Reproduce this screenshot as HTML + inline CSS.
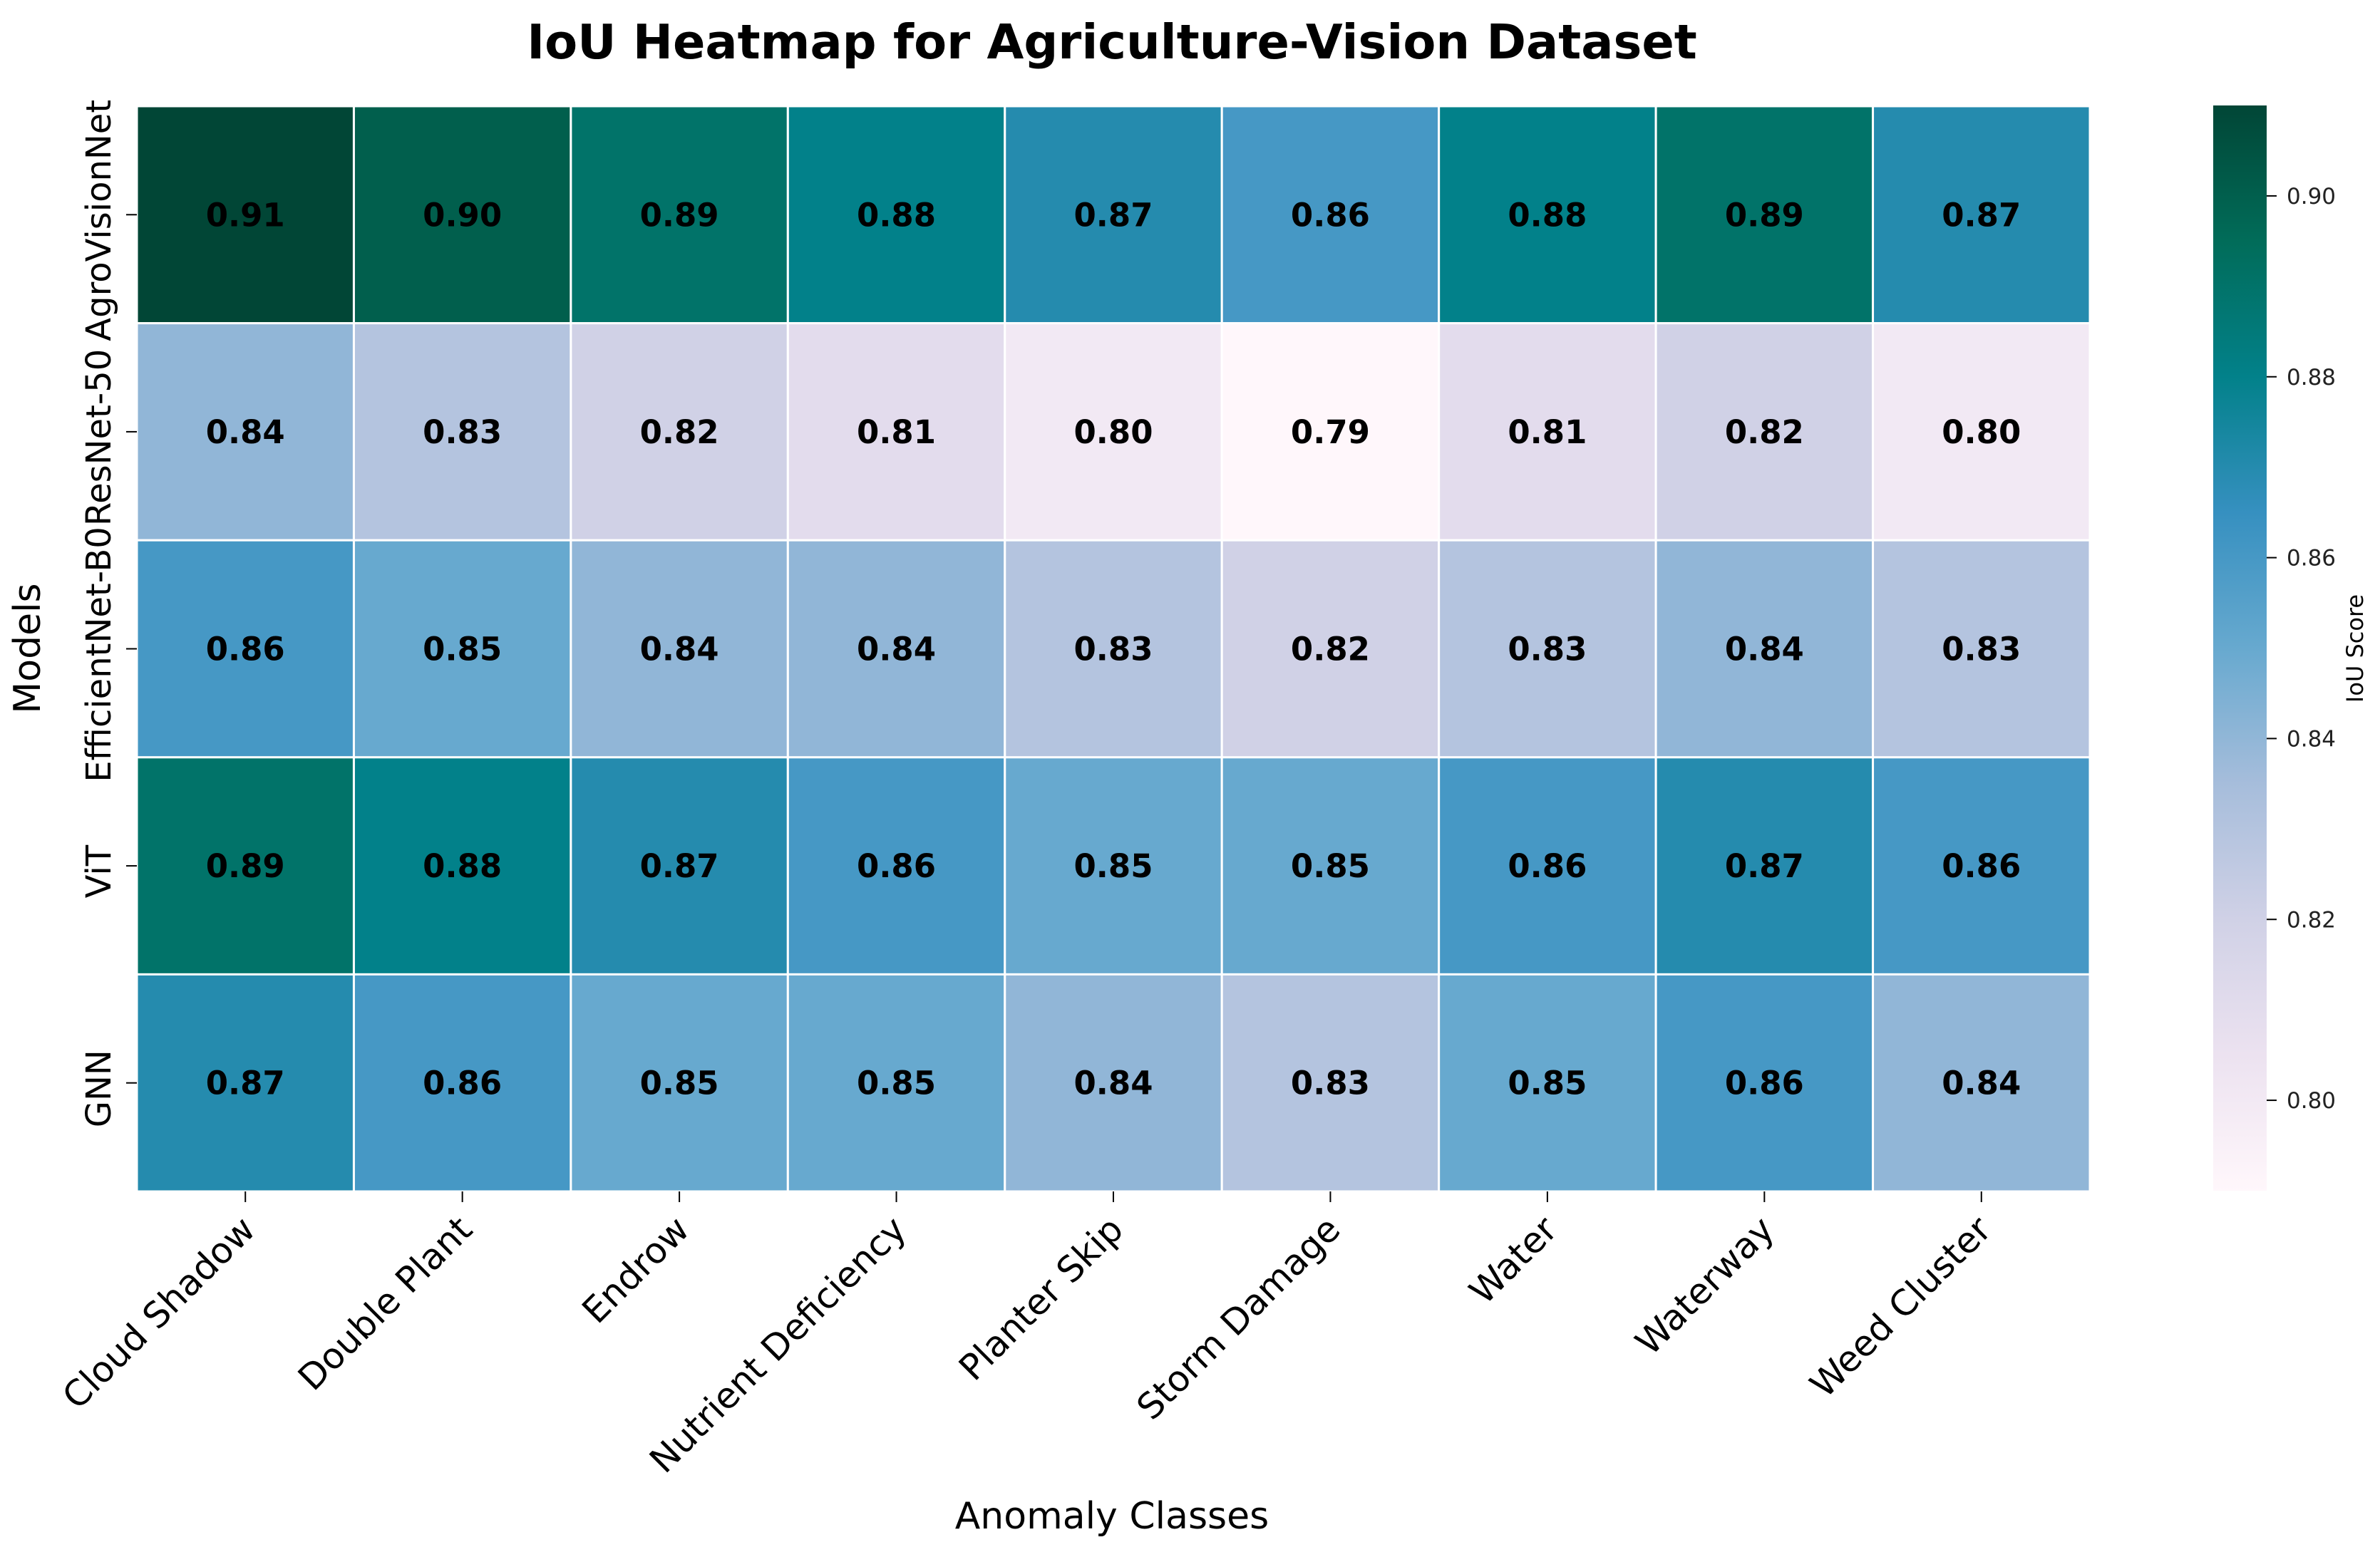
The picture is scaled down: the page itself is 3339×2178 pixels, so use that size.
<!DOCTYPE html>
<html><head><meta charset="utf-8"><style>
html,body{margin:0;padding:0;background:#fff;}
svg{display:block;font-family:"DejaVu Sans","Liberation Sans",sans-serif;}
</style></head><body>
<svg id="chart" width="3339" height="2178" viewBox="0 0 3339 2178" xmlns="http://www.w3.org/2000/svg">
<defs>
<linearGradient id="cbgrad" x1="0" y1="1" x2="0" y2="0">
<stop offset="0" stop-color="#fff7fb"/><stop offset="0.125" stop-color="#ece2f0"/><stop offset="0.25" stop-color="#d0d1e6"/><stop offset="0.375" stop-color="#a6bddb"/><stop offset="0.5" stop-color="#67a9cf"/><stop offset="0.625" stop-color="#3690c0"/><stop offset="0.75" stop-color="#02818a"/><stop offset="0.875" stop-color="#016c59"/><stop offset="1" stop-color="#014636"/>
</linearGradient>
</defs>
<text x="1560" y="82" text-anchor="middle" font-size="67" font-weight="bold">IoU Heatmap for Agriculture-Vision Dataset</text>
<g id="cells"></g>
<g id="xticks"></g>
<g id="yticks"></g>
<text x="1560" y="2145" text-anchor="middle" font-size="52">Anomaly Classes</text>
<text transform="translate(56,910) rotate(-90)" text-anchor="middle" font-size="52">Models</text>
<rect x="3105" y="148" width="75" height="1523" fill="url(#cbgrad)"/>
<g id="cbticks"></g>
<text transform="translate(3315,910) rotate(-90)" text-anchor="middle" font-size="32">IoU Score</text>
</svg>
<script>
const models = ["AgroVisionNet","ResNet-50","EfficientNet-B0","ViT","GNN"];
const classes = ["Cloud Shadow","Double Plant","Endrow","Nutrient Deficiency","Planter Skip","Storm Damage","Water","Waterway","Weed Cluster"];
const rowAgro = [0.91,0.90,0.89,0.88,0.87,0.86,0.88,0.89,0.87];
const rowResNet = [0.84,0.83,0.82,0.81,0.80,0.79,0.81,0.82,0.80];
const rowEff = [0.86,0.85,0.84,0.84,0.83,0.82,0.83,0.84,0.83];
const rowViT = [0.89,0.88,0.87,0.86,0.85,0.85,0.86,0.87,0.86];
const rowGNN = [0.87,0.86,0.85,0.85,0.84,0.83,0.85,0.86,0.84];
const cbTicks = [0.80,0.82,0.84,0.86,0.88,0.90];
const vmin = 0.79, vmax = 0.91;

const rows = [rowAgro,rowResNet,rowEff,rowViT,rowGNN];
const NS="http://www.w3.org/2000/svg";
const L=192,R=2932,T=149,B=1672;
const cw=(R-L)/classes.length, ch=(B-T)/models.length;
const xPos=i=>L+i*cw, yPos=j=>T+j*ch;
const cbY=v=>1671-(v-vmin)/(vmax-vmin)*(1671-148);
const stops=["#fff7fb","#ece2f0","#d0d1e6","#a6bddb","#67a9cf","#3690c0","#02818a","#016c59","#014636"];
function hex(h){return [1,3,5].map(k=>parseInt(h.substr(k,2),16));}
function cmap(v){let t=Math.max(0,Math.min(1,(v-vmin)/(vmax-vmin)))*(stops.length-1);
 let i=Math.min(Math.floor(t),stops.length-2),f=t-i;const a=hex(stops[i]),b=hex(stops[i+1]);
 return "rgb("+a.map((x,k)=>Math.round(x+(b[k]-x)*f)).join(",")+")";}
function mk(tag,attrs,parent){const e=document.createElementNS(NS,tag);for(const k in attrs)e.setAttribute(k,attrs[k]);parent.appendChild(e);return e;}
const cells=document.getElementById("cells");
rows.forEach((row,j)=>{row.forEach((v,i)=>{
 const r=mk("rect",{x:xPos(i),y:yPos(j),width:cw,height:ch,fill:cmap(v),stroke:"#fff","stroke-width":3},cells);
 
 
 const t=mk("text",{x:xPos(i)+cw/2,y:yPos(j)+ch/2+16,"text-anchor":"middle","font-size":45,"font-weight":"bold",fill:"#000"},cells);
 t.textContent=v.toFixed(2);
 
 
});});
const xt=document.getElementById("xticks");
classes.forEach((c,i)=>{const cx=xPos(i)+cw/2;
 const l=mk("line",{x1:cx,y1:B,x2:cx,y2:B+15,stroke:"#000","stroke-width":2},xt);
 
 
 const t=mk("text",{transform:"translate("+(cx-10)+","+(B+30)+") rotate(-45)","text-anchor":"end","font-size":50,dy:"0.75em"},xt);
 t.textContent=c;
 
 
});
const yt=document.getElementById("yticks");
models.forEach((m,j)=>{const cy=yPos(j)+ch/2;
 const l=mk("line",{x1:L-15,y1:cy,x2:L,y2:cy,stroke:"#000","stroke-width":2},yt);
 
 
 const t=mk("text",{transform:"translate(155,"+(cy+8)+") rotate(-90)","text-anchor":"middle","font-size":48},yt);
 t.textContent=m;
 
 
});
const cb=document.getElementById("cbticks");
cbTicks.forEach(v=>{const y=cbY(v);
 const l=mk("line",{x1:3180,y1:y,x2:3194,y2:y,stroke:"#000","stroke-width":2},cb);
 
 
 const t=mk("text",{x:3208,y:y+11,"font-size":31,fill:"#222"},cb);
 t.textContent=v.toFixed(2);
 
 
});
</script>
</body></html>
